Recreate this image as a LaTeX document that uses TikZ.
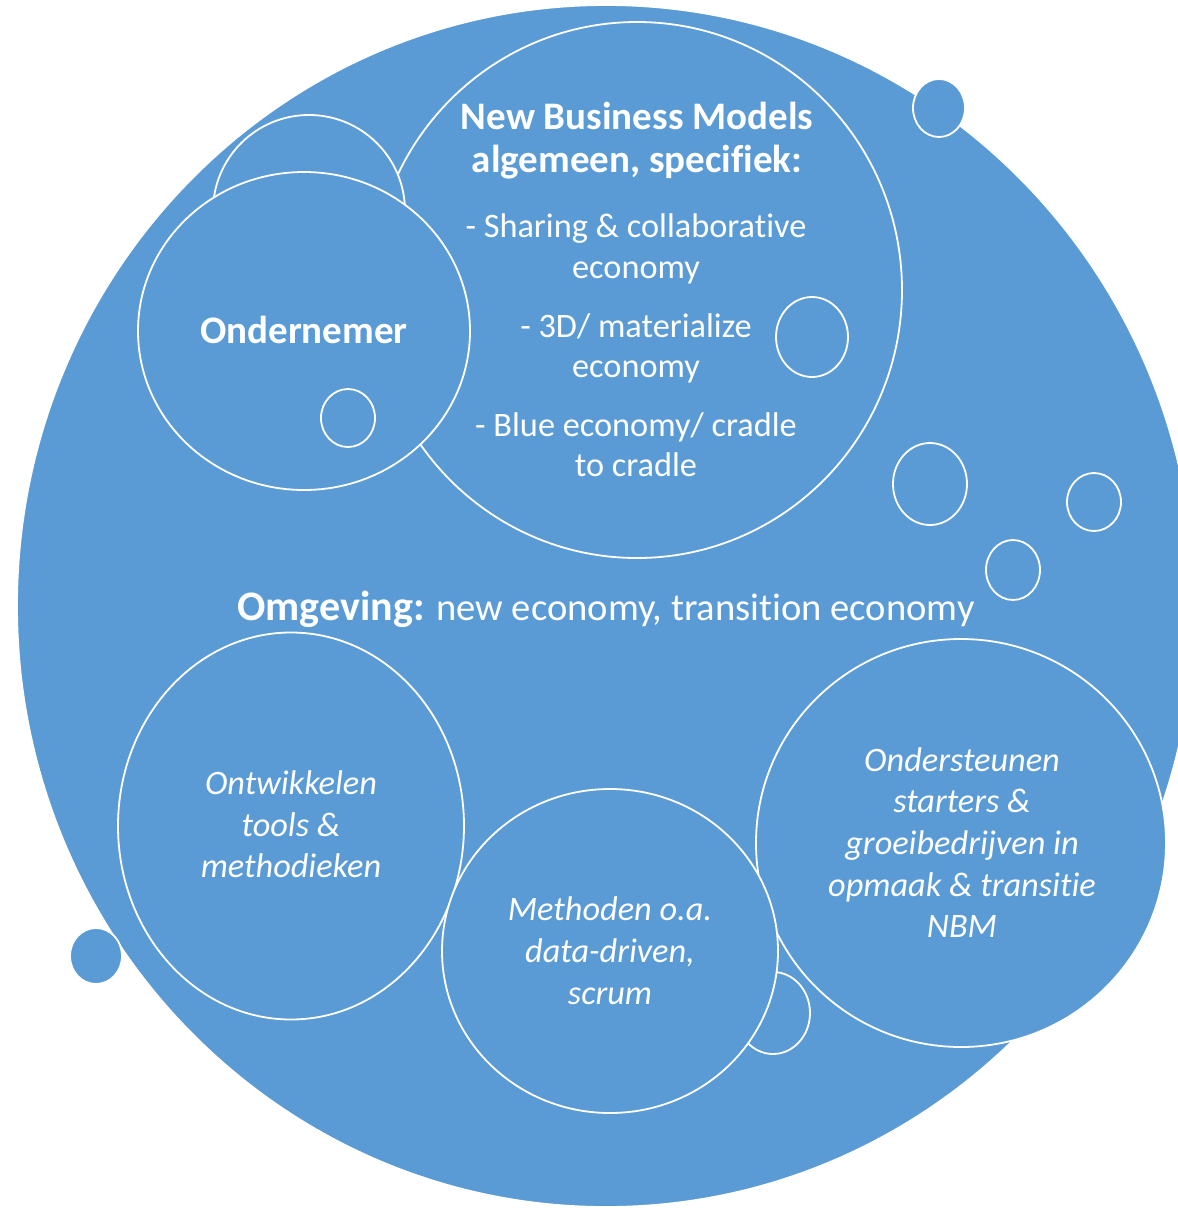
\documentclass[tikz,border=0pt]{standalone}
\usepackage{fontspec}
\setmainfont{Carlito}[Ligatures=NoCommon]
\usetikzlibrary{shapes.geometric}
\definecolor{bblue}{HTML}{5B9BD5}
\begin{document}
\begin{tikzpicture}[x=1pt,y=-1pt,
  bub/.style={ellipse, draw=white, fill=bblue, line width=1.8pt, inner sep=0pt, outer sep=0pt},
  tr/.style={text=white, anchor=base, inner sep=0pt, font=\fontsize{34.3}{41}\selectfont},
  tb/.style={tr, font=\fontsize{39}{46}\selectfont\bfseries},
  ti/.style={tr, font=\fontsize{34.3}{41}\selectfont\itshape},
  tomg/.style={tr, font=\fontsize{38.6}{46}\selectfont}
]
\fill[white] (0,0) rectangle (1178,1211);
\useasboundingbox (0,0) rectangle (1178,1211);
\clip (0,0) rectangle (1178,1211);
% outer world
\node[bub, minimum width=1178pt, minimum height=1202pt] (world) at (606,606) {};
\node[bub, minimum width=52pt, minimum height=58pt] (dotTop) at (939,108) {};
\node[bub, minimum width=52pt, minimum height=56pt] (dotLeft) at (96,956) {};
% upper group
\node[bub, minimum width=530pt, minimum height=536pt] (nbm) at (637,290) {};
\node[bub, minimum width=192pt, minimum height=192pt] (back) at (309,211) {};
\node[bub, minimum width=332pt, minimum height=318pt] (ond) at (304,331) {};
\node[bub, minimum width=54pt, minimum height=58pt] (dotA) at (348,418) {};
\node[bub, minimum width=72pt, minimum height=80pt] (dotB) at (812,337) {};
% free bubbles
\node[bub, minimum width=74pt, minimum height=82pt] (dotC) at (930,484) {};
\node[bub, minimum width=54pt, minimum height=58pt] (dotD) at (1094,502) {};
\node[bub, minimum width=54pt, minimum height=60pt] (dotE) at (1013,570) {};
% lower group
\node[bub, minimum width=74pt, minimum height=82pt] (dotF) at (773,1013) {};
\node[bub, minimum width=346pt, minimum height=387pt] (ontw) at (291,826) {};
\node[bub, minimum width=410pt, minimum height=408pt] (onder) at (961,843) {};
\node[bub, minimum width=336pt, minimum height=324pt] (meth) at (610,951) {};
% texts
\node[tb] (t1) at (637,129) {New Business Models};
\node[tb] (t2) at (637,172) {algemeen, specifiek:};
\node[tr] (b1a) at (636,237) {- Sharing \& collaborative};
\node[tr] (b1b) at (636,278) {economy};
\node[tr] (b2a) at (636,337) {- 3D/ materialize};
\node[tr] (b2b) at (636,377) {economy};
\node[tr] (b3a) at (636,436) {- Blue economy/ cradle};
\node[tr] (b3b) at (636,476) {to cradle};
\node[tb] (ondt) at (304,343) {Ondernemer};
\node[tomg] (omg) at (606,620) {{\fontsize{42}{46}\selectfont\bfseries Omgeving:} new economy, transition economy};
\node[ti] (o1) at (291,794) {Ontwikkelen};
\node[ti] (o2) at (291,836) {tools \&};
\node[ti] (o3) at (291,877) {methodieken};
\node[ti] (m1) at (610,920) {Methoden o.a.};
\node[ti] (m2) at (610,962) {data-driven,};
\node[ti] (m3) at (610,1004) {scrum};
\node[ti] (s1) at (962,771) {Ondersteunen};
\node[ti] (s2) at (962,812) {starters \&};
\node[ti] (s3) at (962,854) {groeibedrijven in};
\node[ti] (s4) at (962,896) {opmaak \& transitie};
\node[ti] (s5) at (962,937) {NBM};
\end{tikzpicture}
\end{document}
